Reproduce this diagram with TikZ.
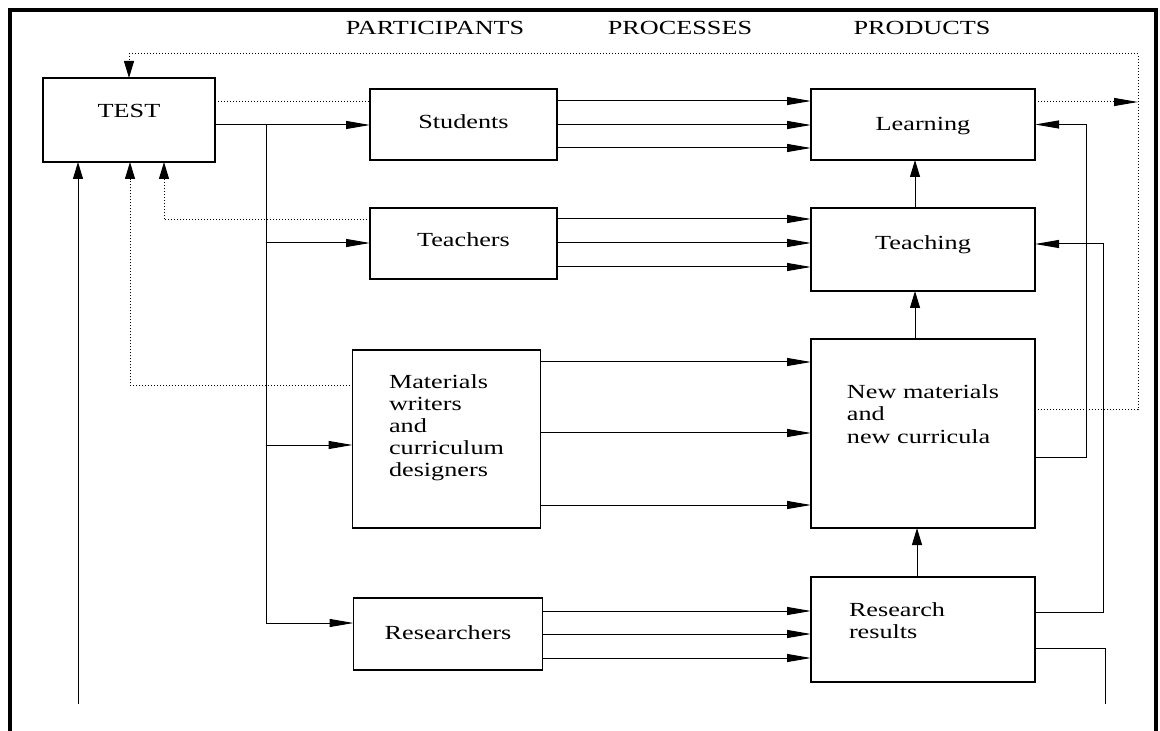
\documentclass[tikz,border=0pt]{standalone}
\usepackage{fontspec}
\setmainfont{Liberation Serif}[FakeStretch=1.31]
\usepackage{tikz}
\usetikzlibrary{positioning}
\usetikzlibrary{arrows.meta}

\begin{document}
\begin{tikzpicture}
    [x=0.5pt, y=-0.5pt,
     font=\fontsize{10}{11.1}\selectfont,
     part/.style={rectangle, draw, line width=0.6pt, outer sep=0pt, minimum width=93.5pt, minimum height=35.5pt},
     prod/.style={rectangle, draw, line width=0.6pt, outer sep=0pt, minimum width=112pt, minimum height=35.5pt},
     hd/.style={anchor=base},
     harr/.style={line width=0.5pt, -{Triangle[length=12pt, width=4pt]}},
     varr/.style={line width=0.5pt, -{Triangle[length=8.5pt, width=5pt]}},
     dot/.style={densely dotted}]

    \useasboundingbox (0,0) rectangle (1160,731);
    \draw [line width=2pt] (9.5,731) -- (9.5,10) -- (1156,10) -- (1156,731);

    \node [hd] (hpart) at (435,35) {PARTICIPANTS};
    \node [hd] (hproc) at (680,35) {PROCESSES};
    \node [hd] (hprod) at (922,35) {PRODUCTS};

    \node [part, anchor=north west, minimum width=86pt, minimum height=42pt, text depth=9.6pt] (test) at (43,78) {TEST};

    \node [part, anchor=north west, text depth=3.3pt] (stud) at (370,89) {Students};
    \node [part, below=24pt of stud, text depth=4.3pt] (teach) {Teachers};
    \node [part, below=35.5pt of teach, xshift=-8.5pt, minimum width=94pt, minimum height=89pt, align=left, text depth=13.5pt] (mat) {Materials\\writers\\and\\curriculum\\designers};
    \node [part, below=35pt of mat, xshift=0.75pt, minimum width=94.5pt, minimum height=36pt, text depth=1.8pt] (res) {Researchers};

    \node [prod, right=127pt of stud, text depth=0.3pt] (learn) {Learning};
    \node [prod, below=24pt of learn, minimum height=41.5pt, text depth=7.3pt] (teaching) {Teaching};
    \node [prod, below=24pt of teaching, minimum height=94.5pt, align=left, text depth=19.5pt] (newmat) {New materials\\and\\new curricula};
    \node [prod, below=24.5pt of newmat, minimum height=52.5pt, text width=74pt, align=left, text depth=20.3pt] (rres) {Research\\results};

    \coordinate (loopr) at (1105,704);
    \coordinate (loopl) at (78,704);
    \coordinate (fbr) at (1138,54);

    % test to participants
    \draw [dot, line width=0.5pt] (test.east |- 0,102) -- (stud.west |- 0,102);
    \draw [harr] (test.east |- 0,125) -- (stud.west |- 0,125);
    \draw [harr] (266,125) |- (res.west |- 0,623);
    \foreach \n/\y in {teach/243,mat/445}
        \draw [harr] (266,\y) -- (\n.west |- 0,\y);

    % participants to products
    \foreach \y in {101,125,148}
        \draw [harr] (stud.east |- 0,\y) -- (learn.west |- 0,\y);
    \foreach \y in {219,243,267}
        \draw [harr] (teach.east |- 0,\y) -- (teaching.west |- 0,\y);
    \foreach \y in {362,433,505}
        \draw [harr] (mat.east |- 0,\y) -- (newmat.west |- 0,\y);
    \foreach \y in {611,634,658}
        \draw [harr] (res.east |- 0,\y) -- (rres.west |- 0,\y);

    % products upwards
    \draw [varr] ([xshift=-4pt] teaching.north) -- ([xshift=-4pt] learn.south);
    \draw [varr] ([xshift=-4pt] newmat.north) -- ([xshift=-4pt] teaching.south);
    \draw [varr] ([xshift=-3pt] rres.north) -- ([xshift=-3pt] newmat.south);

    \draw [harr] (newmat.east |- 0,457) -- ++(25.5pt,0) |- (learn.east);
    \draw [harr] (rres.east |- 0,612) -- ++(34pt,0) |- (teaching.east |- 0,244);
    \draw [line width=0.5pt] (rres.east |- 0,648) -| (loopr);
    \draw [varr] (loopl) -- (test.south -| loopl);

    % feedback to test
    \draw [dot, harr] (learn.east |- 0,102) -- (fbr |- 0,102);
    \draw [dot, varr] (newmat.east |- 0,410) -| (fbr) -| (test.north);
    \draw [dot, varr] (teach.west |- 0,220) -| (test.south -| 164,0);
    \draw [dot, varr] (mat.west |- 0,386) -| (test.south -| 130,0);
\end{tikzpicture}
\end{document}
